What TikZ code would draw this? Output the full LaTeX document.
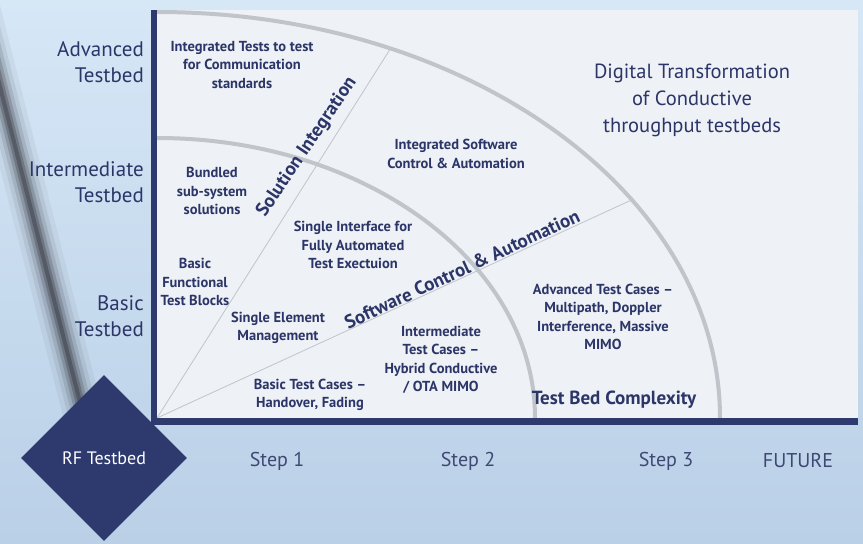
\documentclass[tikz,border=0pt]{standalone}
\usepackage{fontspec}
\setmainfont{PT Sans}
\usetikzlibrary{shapes.geometric}

\definecolor{navy}{RGB}{46,58,110}
\definecolor{ink}{RGB}{43,53,104}
\definecolor{steptext}{RGB}{62,72,116}
\definecolor{arcgray}{RGB}{192,197,203}
\definecolor{panel}{RGB}{238,241,245}
\definecolor{skytop}{RGB}{214,231,246}
\definecolor{skybot}{RGB}{186,208,231}
\definecolor{streak}{RGB}{30,28,36}

\begin{document}
\begin{tikzpicture}[x=1pt, y=1pt,
    axislabel/.style={font=\fontsize{21}{26}\selectfont, text=ink, align=right, anchor=east, inner sep=0pt},
    cell/.style={font=\bfseries\fontsize{14.5}{18.5}\selectfont, text=ink, align=center},
    band/.style={font=\bfseries\fontsize{19}{20}\selectfont, text=ink},
    steplabel/.style={font=\fontsize{20}{22}\selectfont, text=steptext},
    ring/.style={arcgray, line width=4pt},
    spoke/.style={arcgray, line width=0.8pt}]

    \useasboundingbox (0,0) rectangle (863,544);
    \shade[top color=skytop, bottom color=skybot] (0,0) rectangle (863,544);
    % blurred dark streak of the photo
    \foreach \w/\o in {40/0.05, 30/0.08, 22/0.12, 15/0.18, 9/0.25, 4/0.3}
        \draw[streak, line width=\w pt, opacity=\o] (-22,544) -- (84,126);

    % panel
    \fill[panel] (157,126) rectangle (858,534);
    \coordinate (O) at (157,126);

    % rings
    \draw[ring] (157,406) arc[start angle=90, end angle=0, x radius=378, y radius=280];
    \draw[ring] (157,532) arc[start angle=90, end angle=0, x radius=563, y radius=406];

    % spokes
    \path (O) ++(65.5:563 and 406) coordinate (siend);
    \path (O) ++(32.5:563 and 406) coordinate (scend);
    \draw[spoke] (O) -- (siend);
    \draw[spoke] (O) -- (scend);

    % axes
    \fill[navy] (151,119) rectangle (157,534);
    \fill[navy] (151,119) rectangle (858,126);

    % levels
    \node[axislabel] (adv) at (144,482) {Advanced\\Testbed};
    \node[axislabel] (inter) at (144,362) {Intermediate\\Testbed};
    \node[axislabel] (basic) at (144,228) {Basic\\Testbed};

    % cells
    \node[cell] (intcomm) at (242,479) {Integrated Tests to test\\for Communication\\standards};
    \node[cell] (bundled) at (212,353) {Bundled\\sub-system\\solutions};
    \node[cell] (intsw) at (456,390) {Integrated Software\\Control \& Automation};
    \node[cell] (single) at (353,299) {Single Interface for\\Fully Automated\\Test Exectuion};
    \node[cell] (basicfun) at (195,262) {Basic\\Functional\\Test Blocks};
    \node[cell] (singleel) at (278,216) {Single Element\\Management};
    \node[cell] (basictc) at (310,149) {Basic Test Cases --\\Handover, Fading};
    \node[cell] (intertc) at (441,184) {Intermediate\\Test Cases --\\Hybrid Conductive\\/ OTA MIMO};
    \node[cell] (advtc) at (603,227) {Advanced Test Cases --\\Multipath, Doppler\\Interference, Massive\\MIMO};
    \node[font=\fontsize{20.5}{27}\selectfont, text=ink, align=center] (digital) at (692,444)
        {Digital Transformation\\of Conductive\\throughput testbeds};

    % bands
    \node[band, rotate=56] (solint) at (307,397) {Solution Integration};
    \node[band, rotate=25] (swctrl) at (462,275) {Software Control \& Automation};
    \node[band] (complex) at (614,144) {Test Bed Complexity};

    % steps
    \node[diamond, fill=navy, minimum width=166pt, minimum height=166pt, inner sep=0pt,
        text=white, font=\fontsize{18}{20}\selectfont] (rf) at (104,86) {RF Testbed};
    \node[steplabel] (s1) at (277,83) {Step 1};
    \node[steplabel] (s2) at (468,83) {Step 2};
    \node[steplabel] (s3) at (666,83) {Step 3};
    \node[steplabel] (fut) at (798,83) {FUTURE};
\end{tikzpicture}
\end{document}
